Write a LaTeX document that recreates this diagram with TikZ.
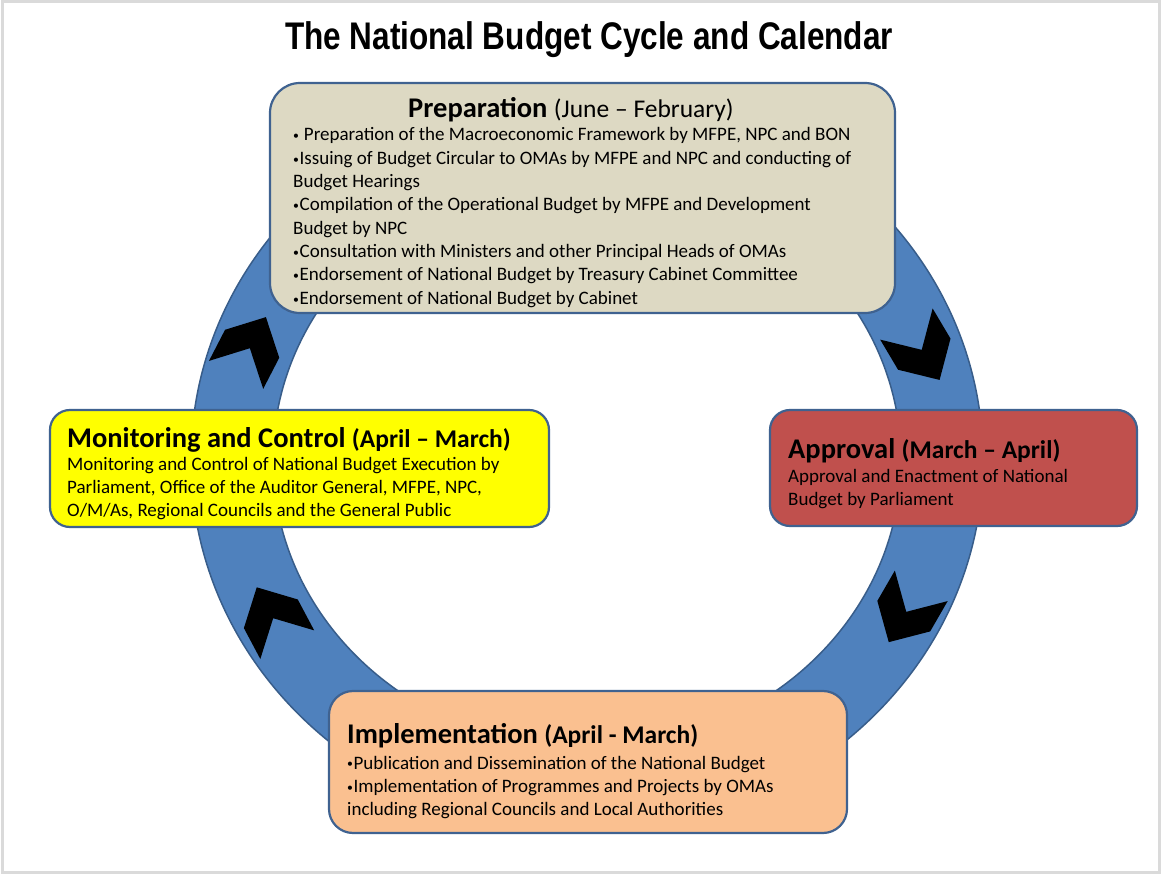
\documentclass[tikz,border=0pt]{standalone}
\usepackage{graphicx}
\usepackage{fontspec}
\setmainfont{Carlito}
\newfontfamily\titlefont{Liberation Sans}
\definecolor{ringblue}{HTML}{4F81BD}
\definecolor{ringedge}{HTML}{385D8A}
\definecolor{boxedge}{HTML}{3F6290}
\definecolor{prepfill}{HTML}{DDD9C3}
\definecolor{monfill}{HTML}{FFFF00}
\definecolor{appfill}{HTML}{C0504D}
\definecolor{impfill}{HTML}{FAC090}
\definecolor{framegray}{HTML}{DADADA}
\newcommand{\bodylines}[1]{\vtop{\baselineskip=23.3pt\lineskiplimit=-30pt\lineskip=0pt #1}}
\newcommand{\bodyfont}{\fontsize{19}{23.3}\selectfont}
\newcommand{\headfont}{\fontsize{28.5}{34}\selectfont\bfseries}
\newcommand{\parenfont}{\fontsize{25.5}{30}\selectfont}
\newcommand{\bul}{\raisebox{0.12ex}{\scalebox{0.62}{•}}\kern0.6pt}
\begin{document}
\begin{tikzpicture}[x=1pt,y=-1pt,
  boxshape/.style={draw=boxedge, line width=2.2pt, inner sep=0pt, outer sep=0pt},
  txt/.style={inner sep=0pt, anchor=base west, text=black},
  chevron/.pic={\fill[black] (-32.5,-30.5) -- (2.5,-30.5) -- (32.5,0) -- (2.5,30.5) -- (-32.5,30.5) -- (-2.5,0) -- cycle;}]
\useasboundingbox (0,0) rectangle (1162,874);
\fill[white] (0,0) rectangle (1162,874);
\draw[framegray, line width=3pt] (2.5,2) rectangle (1159.5,872);
% ring
\fill[ringblue, even odd rule] (587,460) ellipse [x radius=396, y radius=371] (587,460) ellipse [x radius=314, y radius=289];
\draw[ringedge, line width=1.5pt] (587,460) ellipse [x radius=396, y radius=371];
\draw[ringedge, line width=1.5pt] (587,460) ellipse [x radius=314, y radius=289];
% chevrons
\pic[rotate=62.7] at (251,346) {chevron};
\pic[rotate=-59.3] at (923,352) {chevron};
\pic[rotate=-120] at (905,614) {chevron};
\pic[rotate=118] at (272,616) {chevron};
% title
\node[inner sep=0pt, anchor=base] (title) at (589,50) {\scalebox{0.819}[1]{\titlefont\bfseries\fontsize{38.5}{46}\selectfont The National Budget Cycle and Calendar}};
% boxes
\node[boxshape, fill=prepfill, rounded corners=30pt, minimum width=625pt, minimum height=230pt] (prep) at (582.5,198) {};
\node[boxshape, fill=monfill, rounded corners=20pt, minimum width=499pt, minimum height=117pt] (mon) at (299.5,468.5) {};
\node[boxshape, fill=appfill, rounded corners=20pt, minimum width=367pt, minimum height=116pt] (app) at (953.5,468) {};
\node[boxshape, fill=impfill, rounded corners=24pt, minimum width=518pt, minimum height=142pt] (imp) at (588,762) {};
% texts
\node[txt] (preptitle) at (408,118) {\headfont Preparation \parenfont\mdseries(June – February)};
\node[txt] (prepbody) at (293,141) {\bodyfont\bodylines{%
\hbox{\bul\ Preparation of the Macroeconomic Framework by MFPE, NPC and BON}%
\hbox{\bul Issuing of Budget Circular to OMAs by MFPE and NPC and conducting of}%
\hbox{Budget Hearings}%
\hbox{\bul Compilation of the Operational Budget by MFPE and Development}%
\hbox{Budget by NPC}%
\hbox{\bul Consultation with Ministers and other Principal Heads of OMAs}%
\hbox{\bul Endorsement of National Budget by Treasury Cabinet Committee}%
\hbox{\bul Endorsement of National Budget by Cabinet}}};
\node[txt] (montitle) at (67,447) {\headfont Monitoring and Control \parenfont(April – March)};
\node[txt] (monbody) at (67,470) {\bodyfont\bodylines{%
\hbox{Monitoring and Control of National Budget Execution by}%
\hbox{Parliament, Office of the Auditor General, MFPE, NPC,}%
\hbox{O/M/As, Regional Councils and the General Public}}};
\node[txt] (apptitle) at (788,458) {\headfont Approval \parenfont(March – April)};
\node[txt] (appbody) at (788,482) {\bodyfont\bodylines{%
\hbox{Approval and Enactment of National}%
\hbox{Budget by Parliament}}};
\node[txt] (imptitle) at (347,743) {\headfont Implementation \parenfont(April - March)};
\node[txt] (impbody) at (347,769) {\bodyfont\bodylines{%
\hbox{\bul Publication and Dissemination of the National Budget}%
\hbox{\bul Implementation of Programmes and Projects by OMAs}%
\hbox{including Regional Councils and Local Authorities}}};
\end{tikzpicture}
\end{document}
